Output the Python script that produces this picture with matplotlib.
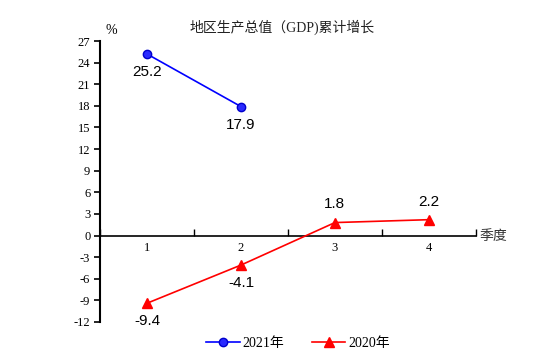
import matplotlib
matplotlib.use("Agg")
import matplotlib.pyplot as plt

quarters = ["1", "2", "3", "4"]
s2021 = [25.2, 17.9]
s2020 = [-9.4, -4.1, 1.8, 2.2]
yticks = [27, 24, 21, 18, 15, 12, 9, 6, 3, 0, -3, -6, -9, -12]

cjk = ["Noto Sans CJK SC", "DejaVu Sans"]
serifcjk = ["Liberation Serif", "Noto Sans CJK SC"]
serif = "Liberation Serif"
sans = "Liberation Sans"

fig = plt.figure(figsize=(5.54, 3.63), dpi=100)
ax = fig.add_axes([0.1805, 0.113, 0.6785, 0.774])

x21 = [1, 2][:len(s2021)]
x20 = list(range(1, len(s2020) + 1))
ax.plot(x21, s2021, color="#0000ff", lw=1.2, marker="o", ms=6,
        markerfacecolor="#2a2aff", markeredgecolor="#0000cc", label="2021年", zorder=3)
ax.plot(x20, s2020, color="#ff0000", lw=1.2, marker="^", ms=7,
        markerfacecolor="#ff0000", markeredgecolor="#ff0000", label="2020年", zorder=3)

for x, v in zip(x21, s2021):
    ax.annotate(f"{v}", (x, v), xytext=(0, -8), textcoords="offset points",
                ha="center", va="top", fontsize=11, family=sans)
for x, v in zip(x20, s2020):
    if v < 0:
        ax.annotate(f"{v}", (x, v), xytext=(0, -8), textcoords="offset points",
                    ha="center", va="top", fontsize=11, family=sans)
    else:
        ax.annotate(f"{v}", (x, v), xytext=(0, 8), textcoords="offset points",
                    ha="center", va="bottom", fontsize=11, family=sans)

ax.set_xlim(0.5, 4.5)
ax.set_ylim(-12, 27)
ax.set_yticks(yticks)
ax.set_yticklabels([str(t) for t in yticks], family=serif, fontsize=9)
ax.tick_params(axis="y", direction="out", length=4, width=1.2, pad=3)

ax.spines["top"].set_visible(False)
ax.spines["right"].set_visible(False)
ax.spines["left"].set_linewidth(1.5)
ax.spines["bottom"].set_position(("data", 0))
ax.spines["bottom"].set_linewidth(1.2)

ax.set_xticks([0.5, 1.5, 2.5, 3.5, 4.5])
ax.set_xticklabels([])
ax.tick_params(axis="x", which="major", direction="in", length=5, width=1.0)
ax.set_xticks([1, 2, 3, 4], minor=True)
ax.set_xticklabels(quarters, minor=True, family=serif, fontsize=9)
ax.tick_params(axis="x", which="minor", length=0, pad=5)

fig.text(0.191, 0.915, "%", family=serif, fontsize=10, ha="left", va="center")
fig.text(0.866, 0.349, "季度", family=cjk, fontsize=10, ha="left", va="center", color="#333333")
fig.text(0.51, 0.925, "地区生产总值（GDP)累计增长", family=serifcjk, fontsize=10,
         ha="center", va="center", color="#222222")

leg = fig.legend(loc="center", bbox_to_anchor=(0.538, 0.055), ncol=2, frameon=False,
                 prop={"family": serifcjk, "size": 10}, handlelength=2.4, columnspacing=2.0,
                 handletextpad=0.2)

fig.savefig("out.png", dpi=100)
